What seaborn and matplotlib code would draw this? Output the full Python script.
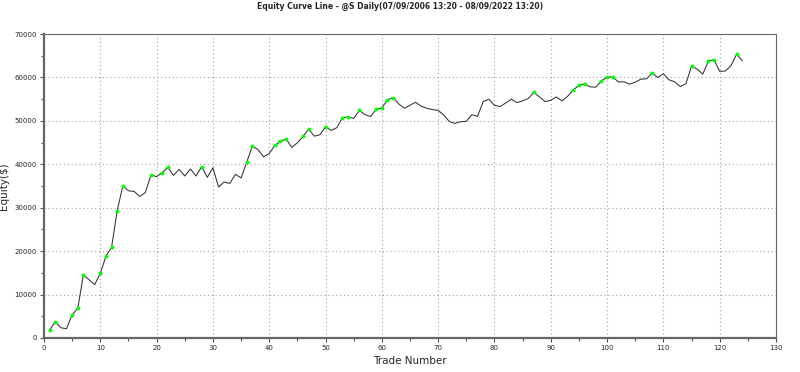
import numpy as np
import pandas as pd
import matplotlib
matplotlib.use("Agg")
import matplotlib.pyplot as plt
from matplotlib.ticker import MultipleLocator
import seaborn as sns

title = "Equity Curve Line - @S Daily(07/09/2006 13:20 - 08/09/2022 13:20)"
x_label = "Trade Number"
y_label = "Equity($)"

trade_numbers = list(range(1, 125))
equity = [
    1900, 3660, 2360, 2130, 5370, 6830, 14540, 13400, 12300, 14860,
    18870, 20880, 29350, 35000, 33900, 33750, 32600, 33500, 37550, 37150,
    38080, 39300, 37450, 38840, 37300, 38930, 37300, 39470, 37000, 39200,
    34770, 35920, 35600, 37690, 36850, 40470, 44170, 43400, 41700, 42480,
    44330, 45250, 45870, 43870, 44950, 46410, 48100, 46480, 46800, 48650,
    47800, 48420, 50740, 50900, 50550, 52430, 51430, 51000, 52660, 52970,
    54850, 55370, 53900, 52900, 53590, 54280, 53360, 52900, 52590, 52430,
    51340, 49810, 49420, 49810, 49880, 51430, 51040, 54440, 54980, 53590,
    53290, 54120, 54980, 54200, 54600, 55150, 56530, 55500, 54440, 54750,
    55500, 54600, 55670, 57130, 58150, 58520, 57830, 57760, 59210, 60070,
    60120, 58980, 58980, 58450, 58910, 59610, 59680, 61000, 60000, 60840,
    59450, 59000, 57900, 58530, 62550, 61930, 60770, 63780, 64090, 61390,
    61470, 62700, 65330, 63860,
]

df = pd.DataFrame({"trade": trade_numbers, "equity": equity})
# new equity highs are marked in green
eq = np.array(equity, dtype=float)
prev_max = np.concatenate([[-np.inf], np.maximum.accumulate(eq)[:-1]])
highs = df[eq > prev_max]

sns.set_theme(style="white")
plt.rcParams["font.family"] = ["DejaVu Sans"]

fig = plt.figure(figsize=(8, 3.72), dpi=100)
ax = fig.add_axes([0.055, 0.0914, 0.915, 0.8172])

sns.lineplot(data=df, x="trade", y="equity", ax=ax, color="#333333", linewidth=0.75)
sns.scatterplot(data=highs, x="trade", y="equity", ax=ax, color="#00ff00",
                marker="o", s=8, linewidth=0, zorder=3)

ax.set_xlim(0, 130)
ax.set_ylim(0, 70000)
ax.xaxis.set_major_locator(MultipleLocator(10))
ax.xaxis.set_minor_locator(MultipleLocator(5))
ax.yaxis.set_major_locator(MultipleLocator(10000))
ax.yaxis.set_minor_locator(MultipleLocator(5000))

ax.grid(True, which="major", linestyle=(0, (1, 2.5)), color="#a0a0a0", linewidth=0.8)
ax.tick_params(axis="both", which="major", direction="out", length=3, width=0.8,
               color="#555555", labelsize=5, pad=2, left=True, bottom=True)
ax.tick_params(axis="both", which="minor", direction="out", length=2, width=0.8,
               color="#555555", left=True, bottom=True)

for side in ["left", "bottom"]:
    ax.spines[side].set_color("#666666")
    ax.spines[side].set_linewidth(1.6)
for side in ["top", "right"]:
    ax.spines[side].set_color("#666666")
    ax.spines[side].set_linewidth(0.8)

ax.set_xlabel(x_label, fontsize=7.5, labelpad=4)
ax.set_ylabel(y_label, fontsize=7.5, labelpad=4)
fig.suptitle(title, fontsize=5.5, fontweight="bold", y=0.995)

fig.savefig("out.png", dpi=100, facecolor="white")
